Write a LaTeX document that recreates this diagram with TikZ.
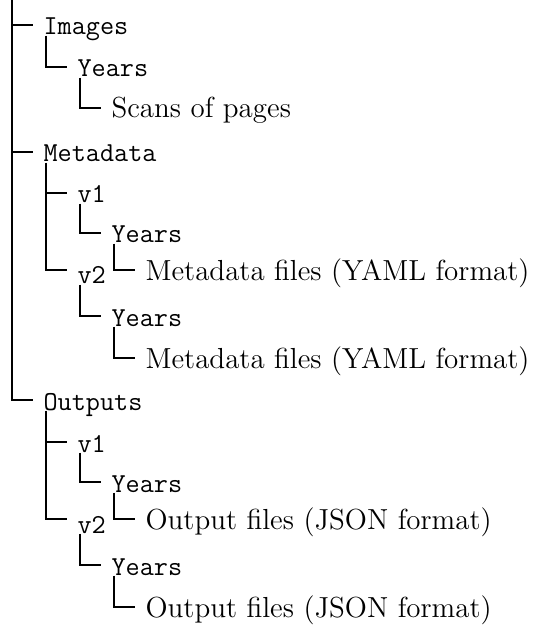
\documentclass[tikz,border=0pt]{standalone}
\usepackage{fontspec}
\newfontfamily\dirtt{Latin Modern Mono}
\usepackage{tikz}
\tikzset{
  entry/.style={anchor=west, inner xsep=5pt, inner ysep=0pt, text height=10pt, text depth=0pt},
  folder/.style={entry, font=\fontsize{13.7}{16}\selectfont\dirtt},
  leaf/.style={entry, font=\fontsize{14.5}{17}\selectfont\rmfamily},
  lowered/.style={text height=14pt}
}

\begin{document}
\begin{tikzpicture}[x=0.5pt, y=-0.5pt, line width=0.6pt]
  \useasboundingbox (0,0) rectangle (541,625);
  \coordinate (root) at (12,0);

  % Images
  \node[folder] (images) at (33,25) {Images};
  \node[folder] (img-years) at (67,67) {Years};
  \node[leaf] (img-scans) at (101,108) {Scans of pages};

  % Metadata
  \node[folder] (meta) at (33,152) {Metadata};
  \node[folder] (meta-v1) at (67,193) {v1};
  \node[folder] (meta-v1-years) at (101,233) {Years};
  \node[leaf] (meta-v1-files) at (135,270) {Metadata files (YAML format)};
  \node[folder, lowered] (meta-v2) at (67,270) {v2};
  \node[folder] (meta-v2-years) at (101,316) {Years};
  \node[leaf] (meta-v2-files) at (135,358) {Metadata files (YAML format)};

  % Outputs
  \node[folder] (out) at (33,400) {Outputs};
  \node[folder] (out-v1) at (67,442) {v1};
  \node[folder] (out-v1-years) at (101,482) {Years};
  \node[leaf] (out-v1-files) at (135,519) {Output files (JSON format)};
  \node[folder, lowered] (out-v2) at (67,519) {v2};
  \node[folder] (out-v2-years) at (101,565) {Years};
  \node[leaf] (out-v2-files) at (135,607) {Output files (JSON format)};

  \draw (root) |- (images.west) (root) |- (meta.west) (root) |- (out.west);
  \draw ([xshift=6.5pt]images.south west) |- (img-years.west);
  \draw ([xshift=6.5pt]img-years.south west) |- (img-scans.west);

  \draw ([xshift=6.5pt]meta.south west) |- (meta-v1.west)
        ([xshift=6.5pt]meta.south west) |- (meta-v2.west);
  \draw ([xshift=6.5pt]meta-v1.south west) |- (meta-v1-years.west);
  \draw ([xshift=6.5pt]meta-v1-years.south west) |- (meta-v1-files.west);
  \draw ([xshift=6.5pt]meta-v2.south west) |- (meta-v2-years.west);
  \draw ([xshift=6.5pt]meta-v2-years.south west) |- (meta-v2-files.west);

  \draw ([xshift=6.5pt]out.south west) |- (out-v1.west)
        ([xshift=6.5pt]out.south west) |- (out-v2.west);
  \draw ([xshift=6.5pt]out-v1.south west) |- (out-v1-years.west);
  \draw ([xshift=6.5pt]out-v1-years.south west) |- (out-v1-files.west);
  \draw ([xshift=6.5pt]out-v2.south west) |- (out-v2-years.west);
  \draw ([xshift=6.5pt]out-v2-years.south west) |- (out-v2-files.west);
\end{tikzpicture}
\end{document}
